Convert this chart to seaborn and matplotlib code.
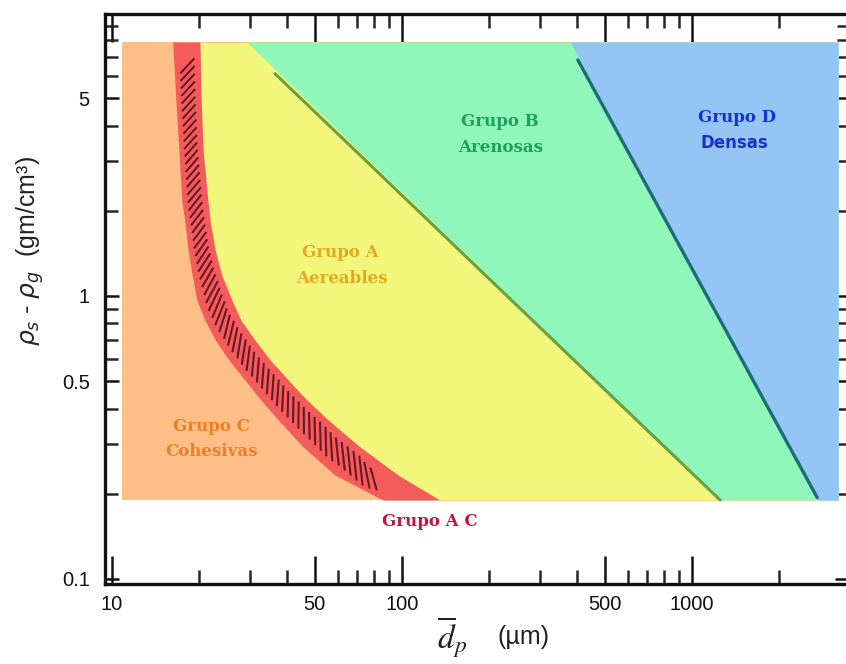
import matplotlib
matplotlib.use("Agg")
import matplotlib.pyplot as plt
from matplotlib.ticker import NullFormatter
from matplotlib.collections import LineCollection
import numpy as np
import seaborn as sns
import pandas as pd

# Geldart powder classification: particle size (µm) vs. density difference (g/cm³)

# Outer extent of the coloured map
size_min, size_max = 10.8, 3190
rho_bottom, rho_top = 0.19, 7.9

# A/C transition band (shared density levels, left and right edges)
band_rho = [7.9, 4.93, 3.28, 2.18, 1.78, 1.45, 1.186, 0.968, 0.823, 0.699,
            0.594, 0.505, 0.429, 0.365, 0.293, 0.233, 0.19]
band_left = [16.2, 16.6, 17.0, 17.4, 17.9, 18.3, 18.9, 19.6, 20.9, 22.7,
             25.3, 28.7, 32.6, 37.4, 45.6, 58.7, 86.0]
band_right = [20.1, 20.3, 20.6, 21.4, 21.9, 22.7, 23.9, 25.9, 27.8, 31.1,
              35.1, 40.5, 47.0, 55.6, 71.6, 96.9, 135]

# Density range covered by the hatch strokes inside the band
hatch_rho_top, hatch_rho_bottom = 6.5, 0.22

# A/B boundary (region edge and drawn line)
ab_size = [29.2, 1250]
ab_rho = [7.9, 0.19]
ab_line_size = [36.5, 1250]
ab_line_rho = [6.1, 0.19]

# B/D boundary (region edge and drawn line)
bd_size = [380, 2700]
bd_rho = [7.9, 0.19]
bd_line_size = [404, 2700]
bd_line_rho = [6.82, 0.194]

# Axis ticks
x_major = [10, 50, 100, 500, 1000]
x_major_labels = ["10", "50", "100", "500", "1000"]
x_minor = [20, 30, 40, 60, 70, 80, 90, 200, 300, 400, 600, 700, 800, 900, 2000]
y_major = [0.1, 0.5, 1, 5]
y_major_labels = ["0.1", "0.5", "1", "5"]
y_minor = [0.2, 0.3, 0.4, 0.6, 0.7, 0.8, 0.9, 2, 3, 4, 6, 7, 8, 9]

# Group labels: (text, size, density, colour, family)
group_labels = [
    ("Grupo B", 218, 4.12, "#1f9e5c", "DejaVu Serif"),
    ("Arenosas", 218, 3.36, "#1f9e5c", "DejaVu Serif"),
    ("Grupo D", 1429, 4.26, "#1a2fcf", "DejaVu Serif"),
    ("Densas", 1400, 3.47, "#1a2fcf", "DejaVu Sans"),
    ("Grupo A", 61.1, 1.42, "#e0aa22", "DejaVu Serif"),
    ("Aereables", 62.0, 1.15, "#e0aa22", "DejaVu Serif"),
    ("Grupo C", 22.1, 0.347, "#f07e22", "DejaVu Serif"),
    ("Cohesivas", 22.1, 0.283, "#f07e22", "DejaVu Serif"),
    ("Grupo A C", 125, 0.160, "#c0163e", "DejaVu Serif"),
]

c_orange = "#fdbf87"
c_red = "#f45b5b"
c_yellow = "#f2f67a"
c_green = "#8ff7b9"
c_blue = "#93c6f5"

sns.set_theme(style="white")
plt.rcParams["font.family"] = ["Liberation Sans", "DejaVu Sans"]

fig = plt.figure(figsize=(8.46, 6.64), dpi=100)
ax = fig.add_axes([105 / 846, 80 / 664, 744 / 846, 570 / 664])
ax.set_xscale("log")
ax.set_yscale("log")
ax.set_xlim(9.46, 3475)
ax.set_ylim(0.096, 9.92)

# Coloured regions, painted left to right
ax.fill_betweenx([rho_bottom, rho_top], size_min, size_max, color=c_orange, lw=0)
ax.fill_betweenx(band_rho, band_left, size_max, color=c_red, lw=0)
ax.fill_betweenx(band_rho, band_right, size_max, color=c_yellow, lw=0)
ax.fill_betweenx(ab_rho, ab_size, size_max, color=c_green, lw=0)
ax.fill_betweenx(bd_rho, bd_size, size_max, color=c_blue, lw=0)

# Hatch strokes that follow the band: short dashes set at 45° to the band
to_disp = ax.transData
left_px = to_disp.transform(np.column_stack([band_left, band_rho]))
right_px = to_disp.transform(np.column_stack([band_right, band_rho]))
ys_disp = left_px[:, 1][::-1]
lx_disp = left_px[:, 0][::-1]
rx_disp = right_px[:, 0][::-1]
y_hi = to_disp.transform((20, hatch_rho_top))[1]
y_lo = to_disp.transform((20, hatch_rho_bottom))[1]
yy = np.linspace(y_hi, y_lo, 800)
mx = 0.5 * (np.interp(yy, ys_disp, lx_disp) + np.interp(yy, ys_disp, rx_disp))
hw = 0.5 * (np.interp(yy, ys_disp, rx_disp) - np.interp(yy, ys_disp, lx_disp))
arc = np.concatenate([[0], np.cumsum(np.hypot(np.diff(mx), np.diff(yy)))])
s = np.arange(0, arc[-1], 7.6)
sx, sy, sw = np.interp(s, arc, mx), np.interp(s, arc, yy), np.interp(s, arc, hw)
tx, ty = np.gradient(sx), np.gradient(sy)
theta = np.arctan2(ty, tx)
perp_half = sw * np.abs(np.sin(theta))
ang = theta - np.pi / 4
half_len = 0.55 * perp_half / np.sin(np.pi / 4)
segs_disp = np.stack([
    np.column_stack([sx - half_len * np.cos(ang), sy - half_len * np.sin(ang)]),
    np.column_stack([sx + half_len * np.cos(ang), sy + half_len * np.sin(ang)]),
], axis=1)
inv = to_disp.inverted()
segs = [inv.transform(seg) for seg in segs_disp]
ax.add_collection(LineCollection(segs, colors="#6a1826", linewidths=1.5,
                                 capstyle="butt", zorder=2.5))

# Boundary lines
ab_df = pd.DataFrame({"size": ab_line_size, "rho": ab_line_rho})
bd_df = pd.DataFrame({"size": bd_line_size, "rho": bd_line_rho})
sns.lineplot(data=ab_df, x="size", y="rho", sort=False, ax=ax,
             color="#6aa041", lw=2.2)
sns.lineplot(data=bd_df, x="size", y="rho", sort=False, ax=ax,
             color="#1f6b7a", lw=2.4)

for text, xs, ys, col, fam in group_labels:
    ax.text(xs, ys, text, color=col, fontsize=12, fontweight="bold",
            family=fam, ha="center", va="center")

# Ticks
ax.set_xticks(x_major)
ax.set_xticklabels(x_major_labels)
ax.set_xticks(x_minor, minor=True)
ax.xaxis.set_minor_formatter(NullFormatter())
ax.set_yticks(y_major)
ax.set_yticklabels(y_major_labels)
ax.set_yticks(y_minor, minor=True)
ax.yaxis.set_minor_formatter(NullFormatter())

ax.tick_params(axis="x", which="major", direction="in", length=20, width=1.8,
               top=True, bottom=True, labelsize=14.5, pad=8, colors="#111111")
ax.tick_params(axis="x", which="minor", direction="in", length=10, width=1.8,
               top=True, bottom=True)
ax.tick_params(axis="y", which="major", direction="in", length=10, width=1.8,
               left=True, right=True, labelsize=14.5, pad=11, colors="#111111")
ax.tick_params(axis="y", which="minor", direction="in", length=9, width=1.8,
               left=True, right=True)

for side in ["left", "bottom", "top", "right"]:
    ax.spines[side].set_linewidth(2.4)
    ax.spines[side].set_color("#111111")

# Axis titles
ax.set_xlabel("")
ax.text(0.466, -0.093, r"$\overline{d}_p$", transform=ax.transAxes,
        fontsize=24, ha="center", va="center", math_fontfamily="stix",
        color="#222222")
ax.text(0.562, -0.093, "(µm)", transform=ax.transAxes, fontsize=18,
        ha="center", va="center", color="#222222")
ax.set_ylabel(r"$\rho_s$ - $\rho_g$  (gm/cm³)", fontsize=18, va="center",
              color="#222222")
ax.yaxis.set_label_coords(-0.101, 0.585)

fig.savefig("out.png", dpi=100)
